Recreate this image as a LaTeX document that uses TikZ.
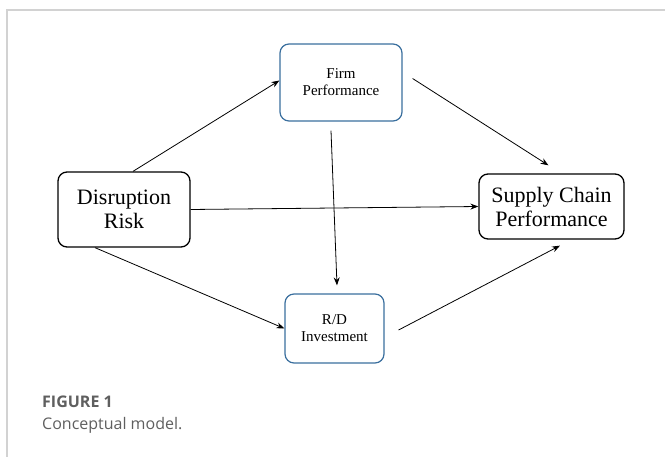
\documentclass[tikz,border=0pt]{standalone}
\usepackage{fontspec}
\setmainfont{Liberation Serif}
\newfontfamily\capfont{Open Sans}
\usepackage{xcolor}
\definecolor{boxblue}{HTML}{3A6F9E}
\definecolor{capgray}{HTML}{5F5F5F}
\definecolor{framegray}{HTML}{D2D2D2}
\usetikzlibrary{arrows.meta,calc}
\tikzset{
  cbox/.style ={rectangle, rounded corners=9pt, draw=black, line width=1.3pt,
                fill=white, align=center, inner sep=2pt},
  bbox/.style ={cbox, draw=boxblue, line width=1.2pt, font=\fontsize{15}{17}\selectfont},
  kbox/.style ={cbox, font=\fontsize{22}{24}\selectfont},
  arr/.style  ={-{Stealth[length=8pt,width=6pt]}, line width=0.8pt},
  captxt/.style={anchor=west, inner sep=0pt, text=capgray, font=\capfont\fontsize{16}{18}\selectfont},
}

\begin{document}
\begin{tikzpicture}[x=1pt, y=-1pt]
  \useasboundingbox (0,0) rectangle (665,457);
  % frame
  \draw[framegray, line width=1.5pt] (7,457) -- (7,10) -- (665,10);

  \node[kbox, minimum width=132pt, minimum height=75pt] (dr)  at (124,209.5) {Disruption\\Risk};
  \node[bbox, minimum width=122pt, minimum height=77pt] (firm) at (341,82.5)  {Firm\\Performance};
  \node[bbox, minimum width=99pt,  minimum height=69pt] (rd)   at (334.5,328.5) {R/D\\Investment};
  \node[kbox, minimum width=145pt, minimum height=65pt] (scp)  at (551.5,206.5) {Supply Chain\\Performance};

  \draw[arr] ([xshift=9pt]dr.north) -- ([yshift=2pt]firm.west);
  \draw[arr] ([xshift=10pt,yshift=4pt]firm.east) -- ([xshift=-3pt,yshift=8pt]scp.north);
  \draw[arr] ([xshift=-10pt,yshift=-9pt]firm.south) -- ([xshift=2.5pt,yshift=8pt]rd.north);
  \draw[arr] (dr.east) -- (scp.west);
  \draw[arr] ([xshift=-29pt]dr.south) -- (rd.west);
  \draw[arr] ([xshift=14pt,yshift=-1.5pt]rd.east) -- ([xshift=8.5pt,yshift=-6pt]scp.south);

  % caption
  \node[captxt, font=\capfont\bfseries\fontsize{16}{18}\selectfont] (fig) at (42,402) {FIGURE 1};
  \node[captxt] (capt) at (42,425) {Conceptual model.};
\end{tikzpicture}
\end{document}
